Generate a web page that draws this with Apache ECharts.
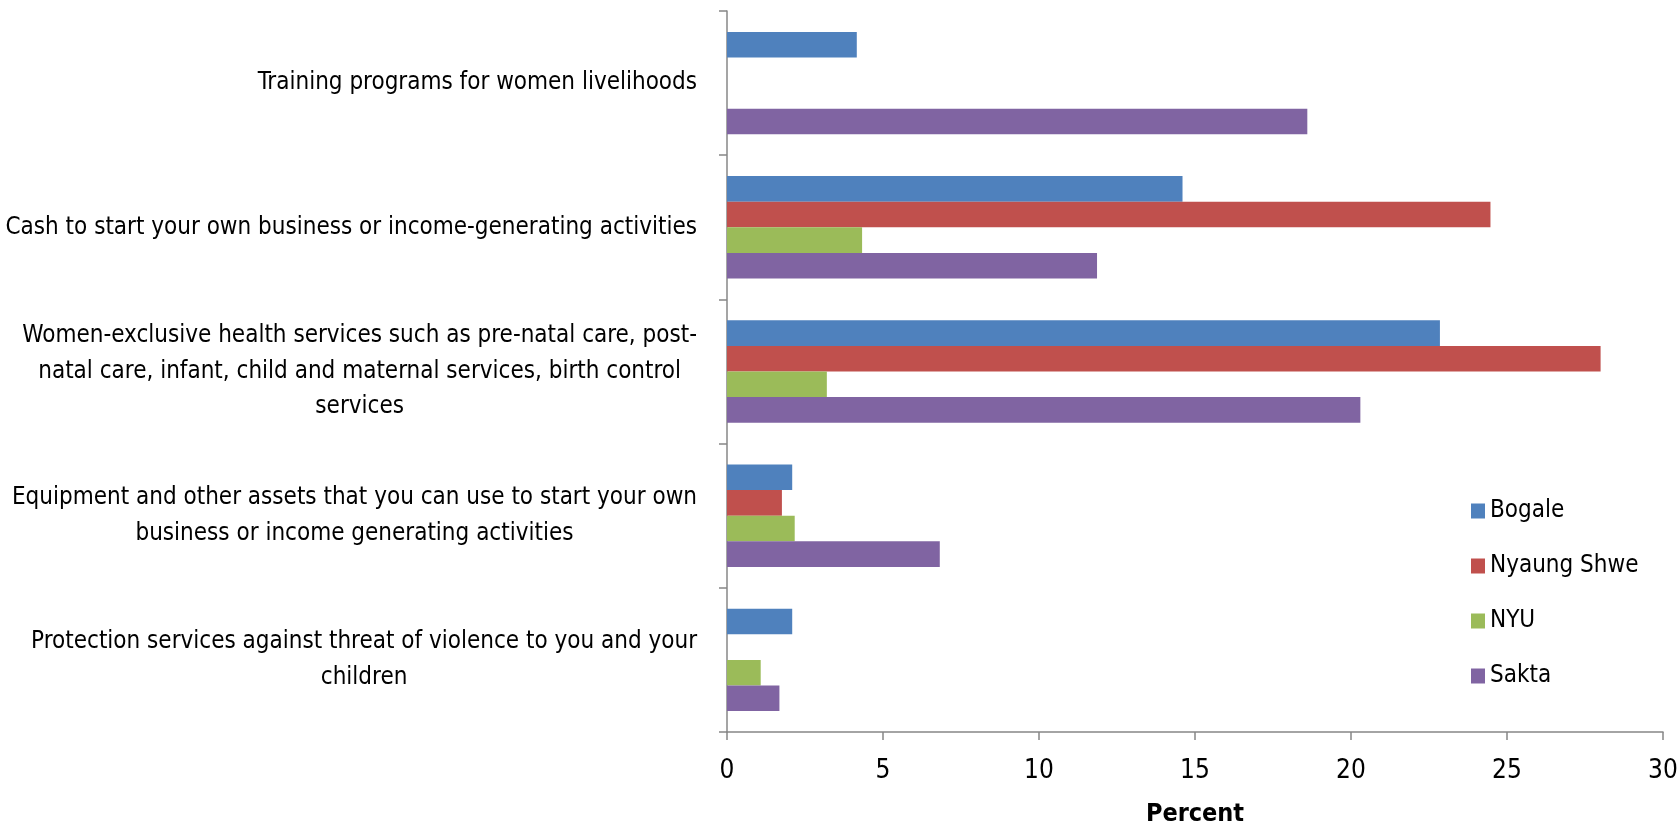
<!DOCTYPE html>
<html>
<head>
<meta charset="utf-8">
<script src="https://cdn.jsdelivr.net/npm/echarts@6/dist/echarts.min.js"></script>
<style>
html,body{margin:0;padding:0;background:#fff;}
#chart{width:1678px;height:825px;}
</style>
</head>
<body>
<div id="chart"></div>
<script>
const categories = [
  "Training programs for women livelihoods",
  "Cash to start your own business or income-generating activities",
  "Women-exclusive health services such as pre-natal care, post-\nnatal care, infant, child and maternal services, birth control\nservices",
  "Equipment and other assets that you can use to start your own\nbusiness or income generating activities",
  "Protection services against threat of violence to you and your\nchildren"
];
const seriesNames = ["Bogale", "Nyaung Shwe", "NYU", "Sakta"];
const bogale = [4.16, 14.6, 22.85, 2.09, 2.09];
const nyaungShwe = [null, 24.47, 28.0, 1.76, null];
const nyu = [null, 4.33, 3.2, 2.17, 1.08];
const sakta = [18.6, 11.86, 20.3, 6.82, 1.68];
const xTicks = { min: 0, max: 30, interval: 5 };
const xAxisTitle = "Percent";

const colors = ["#4F81BD", "#C0504D", "#9BBB59", "#8064A2"];
const FONT = '"Liberation Sans Narrow", "DejaVu Sans Condensed", "Open Sans", sans-serif';
const axisGray = "#878787";

const chart = echarts.init(document.getElementById('chart'), null, { renderer: 'canvas' });
const dataSets = [bogale, nyaungShwe, nyu, sakta];

chart.setOption({
  animation: false,
  color: colors,
  textStyle: { fontFamily: FONT },
  grid: { left: 727, right: 15, top: 11, bottom: 93, containLabel: false, outerBoundsMode: 'none' },
  legend: {
    orient: 'vertical',
    left: 1466,
    top: 492,
    itemWidth: 14,
    itemHeight: 15,
    itemGap: 27,
    icon: 'rect',
    textStyle: { fontFamily: FONT, fontSize: 24, color: '#000', lineHeight: 28 },
    data: seriesNames
  },
  xAxis: {
    type: 'value',
    min: xTicks.min,
    max: xTicks.max,
    interval: xTicks.interval,
    name: xAxisTitle,
    nameLocation: 'middle',
    nameGap: 70,
    nameTextStyle: { fontFamily: FONT, fontSize: 25, fontWeight: 'bold', color: '#000' },
    axisLine: { show: true, lineStyle: { color: axisGray, width: 1.5 } },
    axisTick: { show: true, length: 8, lineStyle: { color: axisGray, width: 1.5 } },
    axisLabel: { fontFamily: FONT, fontSize: 26, color: '#000', margin: 26 },
    splitLine: { show: false }
  },
  yAxis: {
    type: 'category',
    inverse: true,
    data: categories,
    axisLine: { show: true, lineStyle: { color: axisGray, width: 1.5 } },
    axisTick: { show: true, length: 8, inside: false, lineStyle: { color: axisGray, width: 1.5 } },
    axisLabel: {
      margin: 30,
      align: 'right',
      interval: 0,
      formatter: function (v) {
        return v.split('\n').map(l => '{a|' + l + '}').join('\n');
      },
      rich: {
        a: { fontFamily: FONT, fontSize: 24, color: '#000', lineHeight: 35.5, align: 'center' }
      }
    },
    splitLine: { show: false }
  },
  series: seriesNames.map((n, i) => ({
    name: n,
    type: 'bar',
    data: dataSets[i],
    barGap: '0%',
    barCategoryGap: '29%',
    itemStyle: { color: colors[i] }
  }))
});
</script>
</body>
</html>
